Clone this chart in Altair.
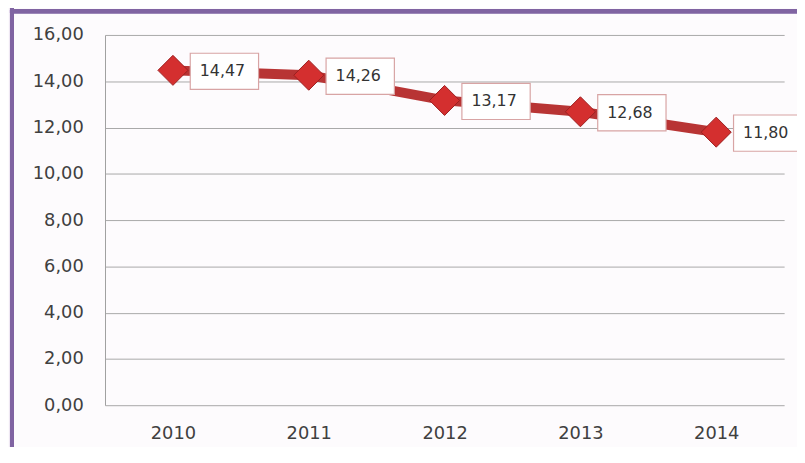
import altair as alt
import pandas as pd

years = ["2010", "2011", "2012", "2013", "2014"]
values = [14.47, 14.26, 13.17, 12.68, 11.80]

df = pd.DataFrame({"year": years, "value": values})

FONT = "DejaVu Sans"
FS = 18
x = alt.X("year:N", sort=years, title=None,
          scale=alt.Scale(paddingInner=0, paddingOuter=0, align=0.5),
          axis=alt.Axis(labelAngle=0, labelFontSize=FS, labelColor="#404040", labelFont=FONT,
                        labelPadding=20, ticks=False, domain=False, grid=False))
y = alt.Y("value:Q", title=None,
          scale=alt.Scale(domain=[0, 16], nice=False),
          axis=alt.Axis(values=[0, 2, 4, 6, 8, 10, 12, 14, 16], labelFontSize=FS, labelColor="#404040",
                        labelFont=FONT, labelPadding=22, ticks=False, domain=True, domainColor="#a0a0a0",
                        gridColor="#a8a8a8", gridWidth=1,
                        labelExpr="replace(format(datum.value, '.2f'), '.', ',')"))

base = alt.Chart(df)

# decorative purple frame (left and top)
frame_left = base.mark_rule(color="#8064a2", strokeWidth=4).encode(
    x=alt.value(-94), y=alt.value(-28), y2=alt.value(440))
frame_top = base.mark_rule(color="#8064a2", strokeWidth=4).encode(
    x=alt.value(-96), x2=alt.value(720), y=alt.value(-24))

line = base.mark_line(color="#b83434", strokeWidth=10).encode(x=x, y=y)
points = base.mark_point(shape="diamond", filled=True, size=920, color="#d42f2f",
                         stroke="#9c1f1f", strokeWidth=1, opacity=1).encode(x=x, y=y)

box_path = "M-1,-0.53L1,-0.53L1,0.53L-1,0.53Z"
boxes = base.mark_point(shape=box_path, filled=True, fill="white", size=4761,
                        stroke="#d8a4a4", strokeWidth=1.2, opacity=1, xOffset=52, yOffset=1).encode(x=x, y=y)
labels = base.transform_calculate(
    lab="replace(format(datum.value, '.2f'), '.', ',')"
).mark_text(fontSize=16, font=FONT, color="#333333", dx=50, dy=1).encode(
    x=x, y=y, text="lab:N")

chart = alt.layer(frame_left, frame_top, line, points, boxes, labels).properties(
    width=686, height=374,
    autosize=alt.AutoSizeParams(type="none"),
    padding={"left": 98, "top": 25, "right": 13, "bottom": 40},
    background="#fdfbfd",
).configure_view(stroke=None)

chart.save("out.html", embed_options={"renderer": "svg", "actions": False})
